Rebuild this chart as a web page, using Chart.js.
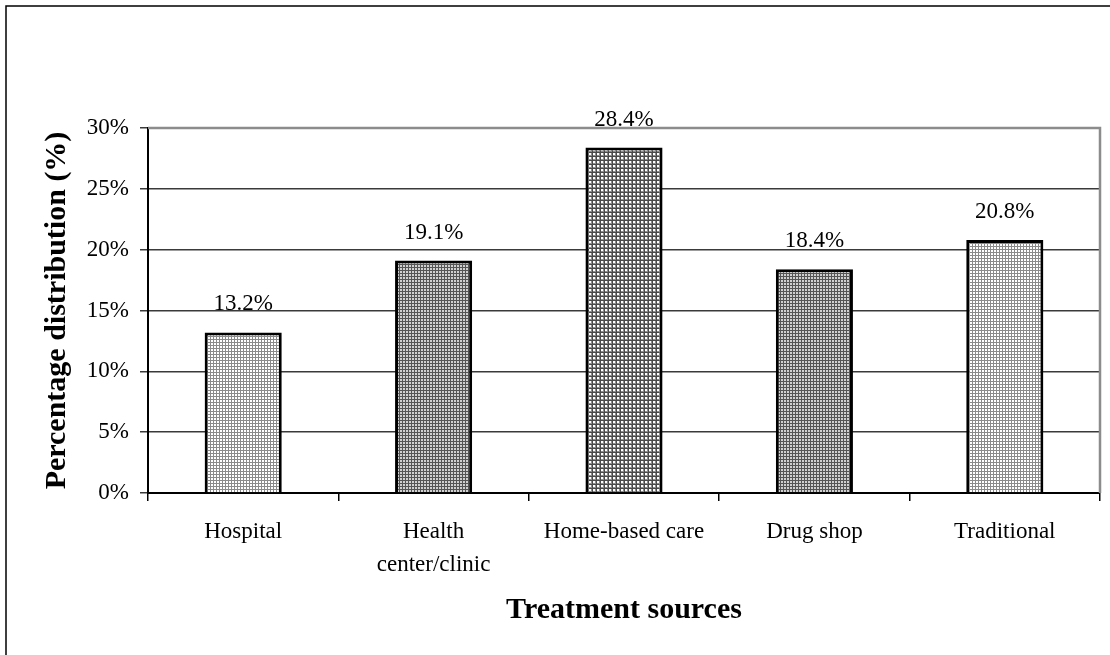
<!DOCTYPE html>
<html>
<head>
<meta charset="utf-8">
<script src="https://cdn.jsdelivr.net/npm/chart.js@4"></script>
<style>
  body { margin: 0; background: #fff; }
</style>
</head>
<body>
<canvas id="barChart" width="1110" height="655"></canvas>
<script>
const categories = ['Hospital', ['Health', 'center/clinic'], 'Home-based care', 'Drug shop', 'Traditional'];
const percentages = [13.2, 19.1, 28.4, 18.4, 20.8];
const yTicks = [0, 5, 10, 15, 20, 25, 30];

// little hatch tiles to mimic the grey grid fills of the original
function makePattern(size, draw) {
    const c = document.createElement('canvas');
    c.width = size;
    c.height = size;
    const g = c.getContext('2d');
    draw(g);
    return g.createPattern(c, 'repeat');
}
const lightGrid = makePattern(3, g => {
    g.fillStyle = '#ffffff'; g.fillRect(0, 0, 3, 3);
    g.fillStyle = '#8a8a8a'; g.fillRect(0, 0, 3, 1); g.fillRect(0, 0, 1, 3);
});
const darkGrid = makePattern(3, g => {
    g.fillStyle = '#d0d0d0'; g.fillRect(0, 0, 3, 3);
    g.fillStyle = '#555555'; g.fillRect(0, 0, 3, 1); g.fillRect(0, 0, 1, 3);
});
const checkGrid = makePattern(4, g => {
    g.fillStyle = '#8e8e8e'; g.fillRect(0, 0, 4, 4);
    g.fillStyle = '#ffffff'; g.fillRect(1, 1, 2, 2);
    g.fillStyle = '#4a4a4a'; g.fillRect(0, 0, 4, 1); g.fillRect(0, 0, 1, 4);
});

const frameAndLabels = {
    id: 'frameAndLabels',
    beforeDraw(chart) {
        const c = chart.ctx;
        c.save();
        c.fillStyle = '#fff';
        c.fillRect(0, 0, chart.width, chart.height);
        c.strokeStyle = '#000';
        c.lineWidth = 1.5;
        c.strokeRect(6, 6, 1200, 800);
        c.restore();
    },
    beforeDatasetsDraw(chart) {
        const a = chart.chartArea;
        const c = chart.ctx;
        c.save();
        c.strokeStyle = '#8c8c8c';
        c.lineWidth = 2.5;
        c.beginPath();
        c.moveTo(a.left, a.top);
        c.lineTo(a.right, a.top);
        c.lineTo(a.right, a.bottom);
        c.stroke();
        c.restore();
    },
    afterDatasetsDraw(chart) {
        const c = chart.ctx;
        const meta = chart.getDatasetMeta(0);
        c.save();
        c.font = '23px "Liberation Serif"';
        c.fillStyle = '#000';
        c.textAlign = 'center';
        c.textBaseline = 'middle';
        meta.data.forEach((bar, i) => {
            c.fillText(percentages[i].toFixed(1) + '%', bar.x, bar.y - 28);
        });
        c.restore();
    }
};

const ctx = document.getElementById('barChart').getContext('2d');
const myChart = new Chart(ctx, {
    type: 'bar',
    data: {
        labels: categories,
        datasets: [{
            label: 'Percentage distribution',
            data: percentages,
            backgroundColor: [lightGrid, darkGrid, checkGrid, darkGrid, lightGrid],
            borderColor: '#000',
            borderWidth: 3,
            borderSkipped: 'bottom',
            categoryPercentage: 1,
            barPercentage: 0.405
        }]
    },
    options: {
        responsive: false,
        animation: false,
        devicePixelRatio: 1,
        layout: {
            padding: { top: 128, right: 10, left: 0, bottom: 0 }
        },
        plugins: {
            legend: { display: false },
            tooltip: { enabled: false }
        },
        scales: {
            x: {
                afterFit: scale => { scale.height = 162; },
                grid: {
                    display: true,
                    drawOnChartArea: false,
                    drawTicks: true,
                    tickLength: 8,
                    color: '#000',
                    lineWidth: 1.5
                },
                border: { color: '#000', width: 2 },
                ticks: {
                    color: '#000',
                    padding: 14,
                    maxRotation: 0,
                    autoSkip: false,
                    font: { family: 'Liberation Serif', size: 23, lineHeight: 1.45 }
                },
                title: {
                    display: true,
                    text: 'Treatment sources',
                    color: '#000',
                    padding: { top: 0, bottom: 27 },
                    font: { family: 'Liberation Serif', size: 30, weight: 'bold' }
                }
            },
            y: {
                min: 0,
                max: 30,
                afterFit: scale => { scale.width = 148; },
                afterBuildTicks: scale => {
                    scale.ticks = yTicks.map(v => ({ value: v }));
                },
                grid: {
                    color: '#3a3a3a',
                    lineWidth: 1.5,
                    tickLength: 8
                },
                border: { color: '#000', width: 2 },
                ticks: {
                    color: '#000',
                    padding: 11,
                    callback: v => v + '%',
                    font: { family: 'Liberation Serif', size: 23 }
                },
                title: {
                    display: true,
                    text: 'Percentage distribution (%)',
                    color: '#000',
                    padding: { top: 39, bottom: 0 },
                    font: { family: 'Liberation Serif', size: 30, weight: 'bold' }
                }
            }
        }
    },
    plugins: [frameAndLabels]
});
</script>
</body>
</html>
